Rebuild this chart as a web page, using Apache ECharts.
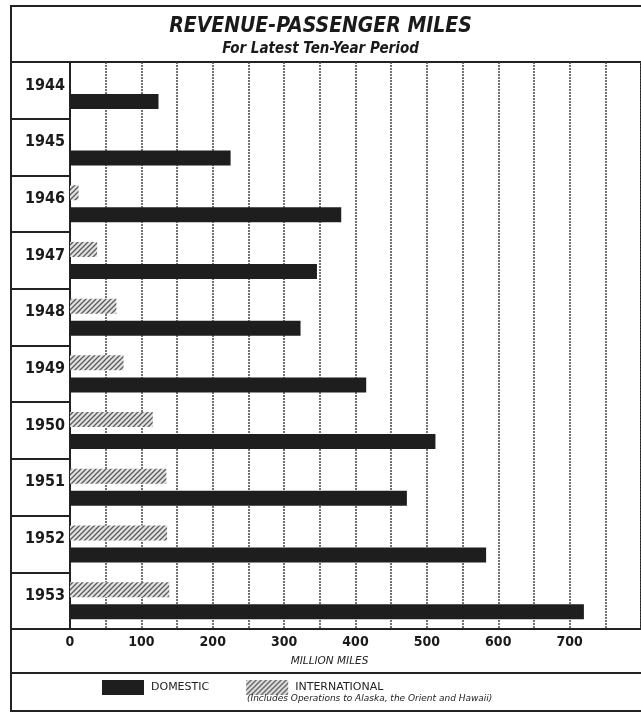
<!DOCTYPE html>
<html>
<head>
<meta charset="utf-8">
<script src="https://cdn.jsdelivr.net/npm/echarts@6/dist/echarts.min.js"></script>
<style>
  html, body { margin: 0; padding: 0; background: #ffffff; }
  #chart { width: 641px; height: 716px; }
</style>
</head>
<body>
<div id="chart"></div>
<script>
// ---- data ----
var years = ['1944', '1945', '1946', '1947', '1948', '1949', '1950', '1951', '1952', '1953'];
var domestic = [124, 225, 380, 346, 323, 415, 512, 472, 583, 720];
var international = [0, 0, 12, 38, 65, 75, 116, 135, 136, 139];
var seriesNames = ['DOMESTIC', 'INTERNATIONAL'];
var titleText = 'REVENUE-PASSENGER MILES';
var subtitleText = 'For Latest Ten-Year Period';
var axisName = 'MILLION MILES';
var noteText = '(Includes Operations to Alaska, the Orient and Hawaii)';

// hatch pattern
function makeHatch() {
  var s = 5;
  var c = document.createElement('canvas');
  c.width = s; c.height = s;
  var ctx = c.getContext('2d');
  ctx.fillStyle = '#e2e2e2';
  ctx.fillRect(0, 0, s, s);
  ctx.strokeStyle = '#5a5a5a';
  ctx.lineWidth = 1.3;
  ctx.beginPath();
  ctx.moveTo(-1, 1); ctx.lineTo(1, -1);
  ctx.moveTo(0, s); ctx.lineTo(s, 0);
  ctx.moveTo(s - 1, s + 1); ctx.lineTo(s + 1, s - 1);
  ctx.stroke();
  return c;
}
var hatch = { image: makeHatch(), repeat: 'repeat' };

var chart = echarts.init(document.getElementById('chart'));
var narrow = '"Liberation Sans Narrow", "DejaVu Sans Condensed", sans-serif';

chart.setOption({
  animation: false,
  backgroundColor: '#ffffff',
  title: [{
    text: titleText,
    subtext: subtitleText,
    left: 'center',
    top: 11,
    itemGap: 5,
    textStyle: { fontFamily: narrow, fontSize: 21, fontWeight: 'bold', fontStyle: 'italic', color: '#1a1a1a' },
    subtextStyle: { fontFamily: narrow, fontSize: 15, fontWeight: 'bold', fontStyle: 'italic', color: '#1a1a1a' }
  }, {
    text: noteText,
    left: 247,
    top: 694,
    padding: 0,
    textStyle: { fontFamily: '"DejaVu Sans", sans-serif', fontSize: 9, fontWeight: 'normal', fontStyle: 'italic', color: '#222' }
  }],
  legend: {
    data: seriesNames,
    left: 102,
    top: 680,
    padding: 0,
    icon: 'rect',
    itemWidth: 42,
    itemHeight: 15,
    itemGap: 37,
    textStyle: { fontFamily: '"DejaVu Sans", sans-serif', fontSize: 11, color: '#222', padding: [0, 0, 4, 2] }
  },
  grid: {
    left: 70, top: 62, width: 573, height: 567,
    show: true, borderColor: '#222', borderWidth: 2
  },
  xAxis: {
    type: 'value',
    min: 0, max: 800, interval: 50,
    name: axisName,
    nameLocation: 'middle',
    nameGap: 27,
    nameTextStyle: { fontFamily: '"DejaVu Sans", sans-serif', fontSize: 10.5, fontStyle: 'italic', color: '#222', padding: [0, 52, 0, 0], verticalAlign: 'top' },
    axisLine: { show: true, lineStyle: { color: '#222', width: 2 } },
    axisTick: { show: false },
    axisLabel: {
      showMaxLabel: false,
      margin: 6,
      fontFamily: narrow, fontSize: 14, fontWeight: 'bold', color: '#1a1a1a',
      formatter: function (v) { return v % 100 === 0 ? String(v) : ''; }
    },
    splitLine: { show: true, lineStyle: { color: '#444', width: 1.5, type: [2, 1] } }
  },
  yAxis: {
    type: 'category',
    data: years,
    inverse: true,
    axisLine: { show: true, lineStyle: { color: '#222', width: 2 } },
    axisTick: { show: true, length: 59, lineStyle: { color: '#222', width: 2 } },
    axisLabel: {
      margin: 25, align: 'center',
      formatter: function (v) { return '{a|' + v + '}\n{b|}'; },
      rich: {
        a: { fontFamily: narrow, fontSize: 16, fontWeight: 'bold', color: '#1a1a1a', lineHeight: 18, align: 'center' },
        b: { lineHeight: 10, height: 10 }
      }
    },
    splitLine: { show: false }
  },
  graphic: [
    { type: 'rect', silent: true, z: 100, shape: { x: 11, y: 6, width: 700, height: 705 }, style: { fill: 'none', stroke: '#222', lineWidth: 2 } },
    { type: 'line', silent: true, z: 100, shape: { x1: 11, y1: 673, x2: 660, y2: 673 }, style: { stroke: '#222', lineWidth: 2 } }
  ],
  series: [{
    name: seriesNames[1],
    type: 'bar',
    data: international,
    barWidth: 15,
    barGap: '47%',
    itemStyle: { color: hatch }
  }, {
    name: seriesNames[0],
    type: 'bar',
    data: domestic,
    barWidth: 15,
    barGap: '47%',
    itemStyle: { color: '#1e1e1e' }
  }]
});
</script>
</body>
</html>
